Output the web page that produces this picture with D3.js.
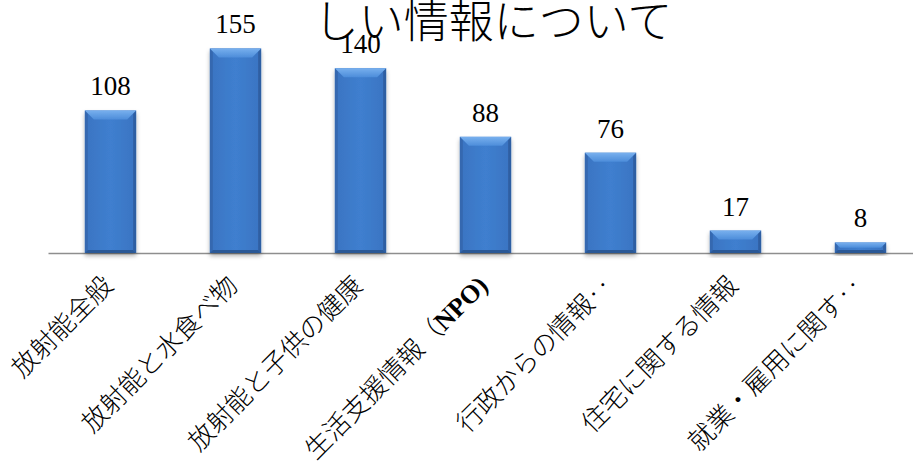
<!DOCTYPE html>
<html>
<head>
<meta charset="utf-8">
<script src="https://cdn.jsdelivr.net/npm/d3@7"></script>
<style>
  html, body { margin: 0; padding: 0; background: #fff; overflow: hidden; }
  svg { display: block; }
</style>
</head>
<body>
<svg id="chart"></svg>
<script>
// categories and counts
const categories = ["放射能全般", "放射能と水食べ物", "放射能と子供の健康", "生活支援情報（NPO)", "行政からの情報‥", "住宅に関する情報", "就業・雇用に関す‥"]
const counts = [108, 155, 140, 88, 76, 17, 8]
const titleText = "しい情報について"

const width = 913
const height = 469
const baseY = 253

const svg = d3.select("#chart")
    .attr("width", width)
    .attr("height", height)

const x = d3.scaleBand()
    .domain(categories)
    .range([48, 923])
    .paddingInner(0.59)
    .paddingOuter(0.295)

const y = d3.scaleLinear()
    .domain([0, 160])
    .range([baseY, baseY - 1.32 * 160])

const data = categories.map((c, i) => ({ cat: c, value: counts[i] }))

// gradients + shadow
const defs = svg.append("defs")
const topGrad = defs.append("linearGradient").attr("id", "topBevel")
    .attr("x1", 0).attr("y1", 0).attr("x2", 0).attr("y2", 1)
topGrad.append("stop").attr("offset", "0%").attr("stop-color", "#78b0ee")
topGrad.append("stop").attr("offset", "100%").attr("stop-color", "#4d8dda")

const bodyGrad = defs.append("linearGradient").attr("id", "body")
    .attr("x1", 0).attr("y1", 0).attr("x2", 1).attr("y2", 0)
bodyGrad.append("stop").attr("offset", "0%").attr("stop-color", "#3a74c2")
bodyGrad.append("stop").attr("offset", "50%").attr("stop-color", "#3f7fcf")
bodyGrad.append("stop").attr("offset", "100%").attr("stop-color", "#3a74c2")

const shadow = defs.append("filter").attr("id", "shadow")
    .attr("x", "-20%").attr("y", "-20%").attr("width", "140%").attr("height", "140%")
shadow.append("feDropShadow")
    .attr("dx", 0).attr("dy", 3).attr("stdDeviation", 2)
    .attr("flood-color", "#000").attr("flood-opacity", 0.3)

// axis line (no ticks), labels put on the ticks below
const axis = svg.append("g")
    .attr("transform", `translate(0,${baseY})`)
    .call(d3.axisBottom(x).tickSize(0).tickSizeOuter(0))

axis.select(".domain")
    .attr("stroke", "#8e8e8e")
    .attr("stroke-width", 1.5)

axis.selectAll(".tick text").remove()

axis.selectAll(".tick").append("text")
    .attr("fill", "#000")
    .attr("font-family", "'Noto Sans CJK JP', sans-serif")
    .attr("font-weight", 300)
    .attr("font-size", 26)
    .attr("text-anchor", "end")
    .attr("transform", "translate(4,34) rotate(-45)")
    .each(function(d) {
        const t = d3.select(this)
        const m = d.match(/^(.*（)(NPO\))$/)
        if (m) {
            t.append("tspan").text(m[1])
            t.append("tspan")
                .attr("font-family", "'Liberation Serif', serif")
                .attr("font-weight", "bold")
                .text(m[2])
        } else {
            t.text(d)
        }
    })

// bars with bevel
const bars = svg.append("g").selectAll("g.bar")
    .data(data)
    .join("g")
    .attr("class", "bar")
    .attr("filter", "url(#shadow)")

bars.append("rect")
    .attr("x", d => x(d.cat))
    .attr("y", d => y(d.value))
    .attr("width", x.bandwidth())
    .attr("height", d => baseY - y(d.value))
    .attr("fill", "url(#body)")

// left / right / bottom darker edges
bars.append("polygon")
    .attr("points", d => {
        const x0 = x(d.cat), x1 = x0 + x.bandwidth()
        const y0 = y(d.value), y1 = baseY
        const b = Math.min(3, (y1 - y0) / 2)
        return [[x0, y0], [x0 + b, y0 + b], [x0 + b, y1 - b], [x0, y1]].join(" ")
    })
    .attr("fill", "#3468b0")
bars.append("polygon")
    .attr("points", d => {
        const x0 = x(d.cat), x1 = x0 + x.bandwidth()
        const y0 = y(d.value), y1 = baseY
        const b = Math.min(3, (y1 - y0) / 2)
        return [[x1, y0], [x1 - b, y0 + b], [x1 - b, y1 - b], [x1, y1]].join(" ")
    })
    .attr("fill", "#2f5fa3")
bars.append("polygon")
    .attr("points", d => {
        const x0 = x(d.cat), x1 = x0 + x.bandwidth()
        const y0 = y(d.value), y1 = baseY
        const b = Math.min(3, (y1 - y0) / 2)
        return [[x0, y1], [x0 + b, y1 - b], [x1 - b, y1 - b], [x1, y1]].join(" ")
    })
    .attr("fill", "#2b5896")

// top bevel
bars.append("polygon")
    .attr("points", d => {
        const x0 = x(d.cat), x1 = x0 + x.bandwidth()
        const y0 = y(d.value)
        const b = Math.min(9, (baseY - y0) / 2)
        return [[x0, y0], [x1, y0], [x1 - b, y0 + b], [x0 + b, y0 + b]].join(" ")
    })
    .attr("fill", "url(#topBevel)")

// value labels
svg.append("g").selectAll("text")
    .data(data)
    .join("text")
    .attr("x", d => x(d.cat) + x.bandwidth() / 2)
    .attr("y", d => y(d.value) - 15)
    .attr("text-anchor", "middle")
    .attr("font-family", "'Liberation Serif', serif")
    .attr("font-size", 27)
    .attr("fill", "#000")
    .text(d => d.value)

// title (cut at the top in the picture)
svg.append("text")
    .attr("x", 493)
    .attr("y", 38)
    .attr("text-anchor", "middle")
    .attr("font-family", "'Noto Sans CJK JP', sans-serif")
    .attr("font-weight", 300)
    .attr("font-size", 45)
    .attr("fill", "#000")
    .text(titleText)
</script>
</body>
</html>
